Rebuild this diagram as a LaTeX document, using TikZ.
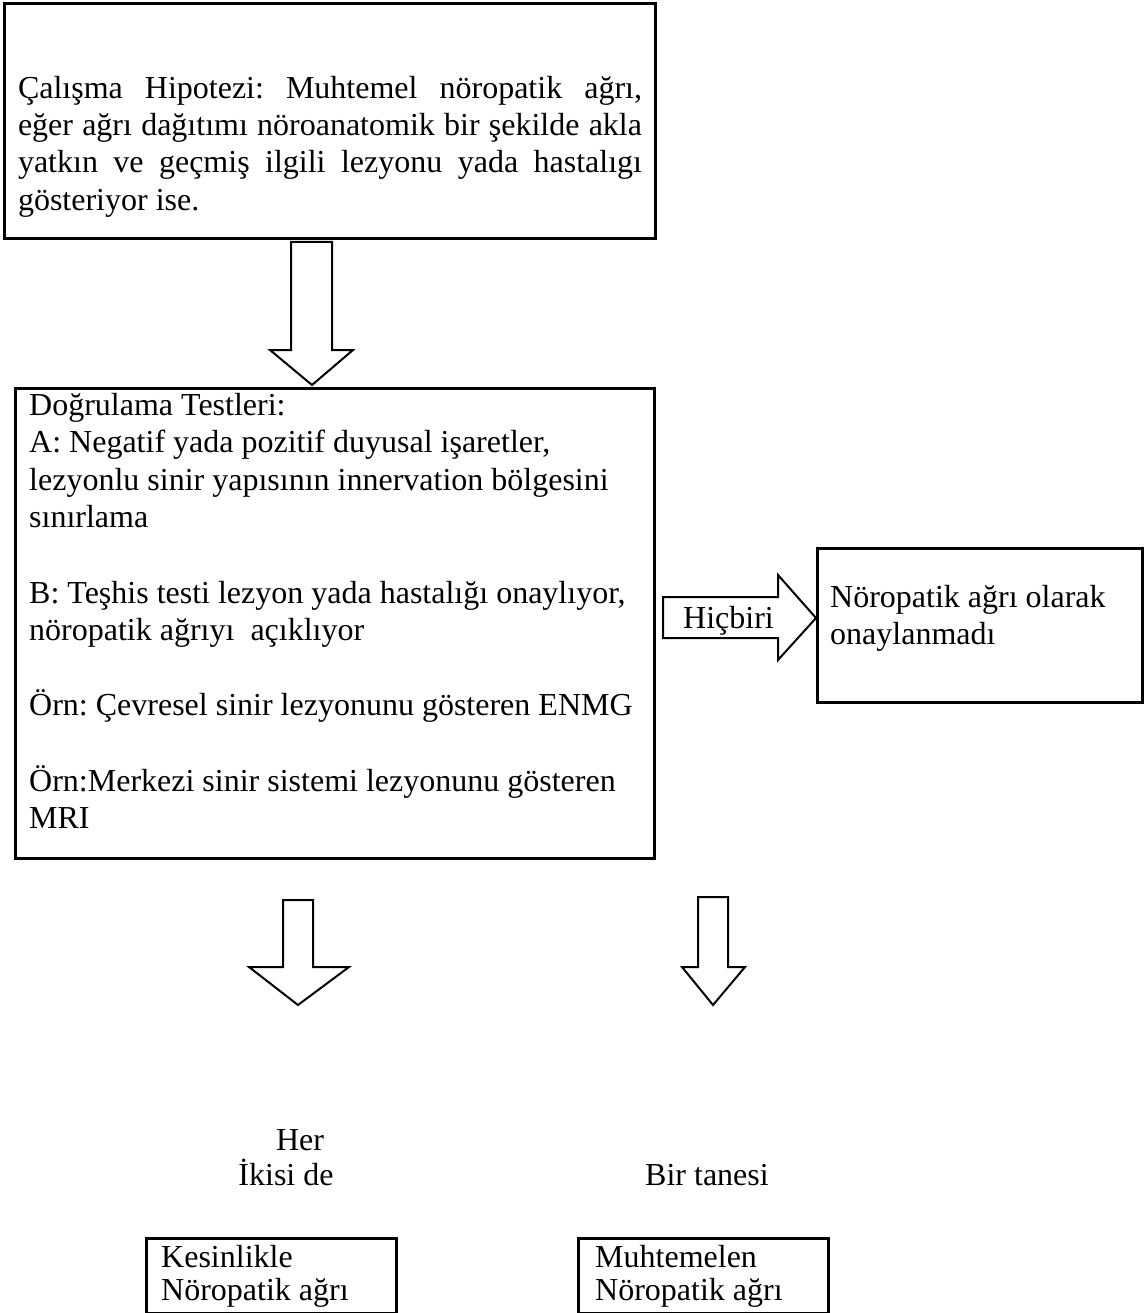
\documentclass[tikz,border=0pt]{standalone}
\usepackage{fontspec}
\setmainfont{Liberation Serif}
\frenchspacing
\newcommand\myline[1]{\hbox{#1}}
\newcommand\myjline[1]{\hbox to \linewidth{#1}}
\begin{document}
\begin{tikzpicture}[x=1pt,y=-1pt,
  box/.style={draw, line width=3pt, inner sep=0pt, anchor=north west},
  smallbox/.style={draw, line width=2.5pt, inner sep=0pt, anchor=north west},
  barrow/.style={draw, line width=2pt, line join=miter, fill=white},
  txt/.style={inner sep=0pt, font=\fontsize{32}{37.2}\selectfont}]
\useasboundingbox[fill=white] (0,0) rectangle (1144,1313);

% boxes
\node[box, minimum width=651pt, minimum height=235pt] (hyp) at (3,2) {};
\node[box, minimum width=639pt, minimum height=470pt] (tests) at (14,387) {};
\node[box, minimum width=325pt, minimum height=154pt] (none) at (816,547) {};
\node[smallbox, minimum width=250pt, minimum height=75pt] (defin) at (145,1237) {};
\node[smallbox, minimum width=250pt, minimum height=75pt] (prob) at (577,1237) {};

% texts
\node[txt, anchor=base west] (hyptxt) at (17.8,98.5) {\parbox[t]{624pt}{%
\myjline{Çalışma Hipotezi: Muhtemel nöropatik ağrı,}
\myjline{eğer ağrı dağıtımı nöroanatomik bir şekilde akla}
\myjline{yatkın ve geçmiş ilgili lezyonu yada hastalıgı}
\myline{gösteriyor ise.}}};

\node[txt, anchor=base west] (teststxt) at (29,415) {\parbox[t]{620pt}{\baselineskip=37.6pt
\myline{Doğrulama Testleri:}
\myline{A: Negatif yada pozitif duyusal işaretler,}
\myline{lezyonlu sinir yapısının innervation bölgesini}
\myline{sınırlama}
\myline{}
\myline{B: Teşhis testi lezyon yada hastalığı onaylıyor,}
\myline{nöropatik ağrıyı\ \ açıklıyor}
\myline{}
\myline{Örn: Çevresel sinir lezyonunu gösteren ENMG}
\myline{}
\myline{Örn:Merkezi sinir sistemi lezyonunu gösteren}
\myline{MRI}}};

\node[txt, anchor=base west] (nonetxt) at (830,607) {\parbox[t]{300pt}{\baselineskip=37pt
\myline{Nöropatik ağrı olarak}
\myline{onaylanmadı}}};

\node[txt, anchor=base west] (defintxt) at (161,1267) {\parbox[t]{230pt}{\baselineskip=33pt
\myline{Kesinlikle}
\myline{Nöropatik ağrı}}};

\node[txt, anchor=base west] (probtxt) at (595,1267) {\parbox[t]{230pt}{\baselineskip=33pt
\myline{Muhtemelen}
\myline{Nöropatik ağrı}}};

\node[txt, anchor=base] (her) at (300,1150) {Her};
\node[txt, anchor=base] (ikisi) at (286,1185) {İkisi de};
\node[txt, anchor=base] (bir) at (707,1185) {Bir tanesi};

% block arrows
\draw[barrow] (291,242) -- (332,242) -- (332,350) -- (353,350) -- (312,385)
  -- (270,350) -- (291,350) -- cycle;
\draw[barrow] (663,597) -- (778,597) -- (778,575) -- (816,618) -- (778,660)
  -- (778,638) -- (663,638) -- cycle;
\node[txt, anchor=base west] (hicbiri) at (683,628) {Hiçbiri};
\draw[barrow] (283,900) -- (313,900) -- (313,967) -- (349,967) -- (298,1005)
  -- (249,967) -- (283,967) -- cycle;
\draw[barrow] (698,897) -- (728,897) -- (728,967) -- (745,967) -- (713,1005)
  -- (682,967) -- (698,967) -- cycle;
\end{tikzpicture}
\end{document}
